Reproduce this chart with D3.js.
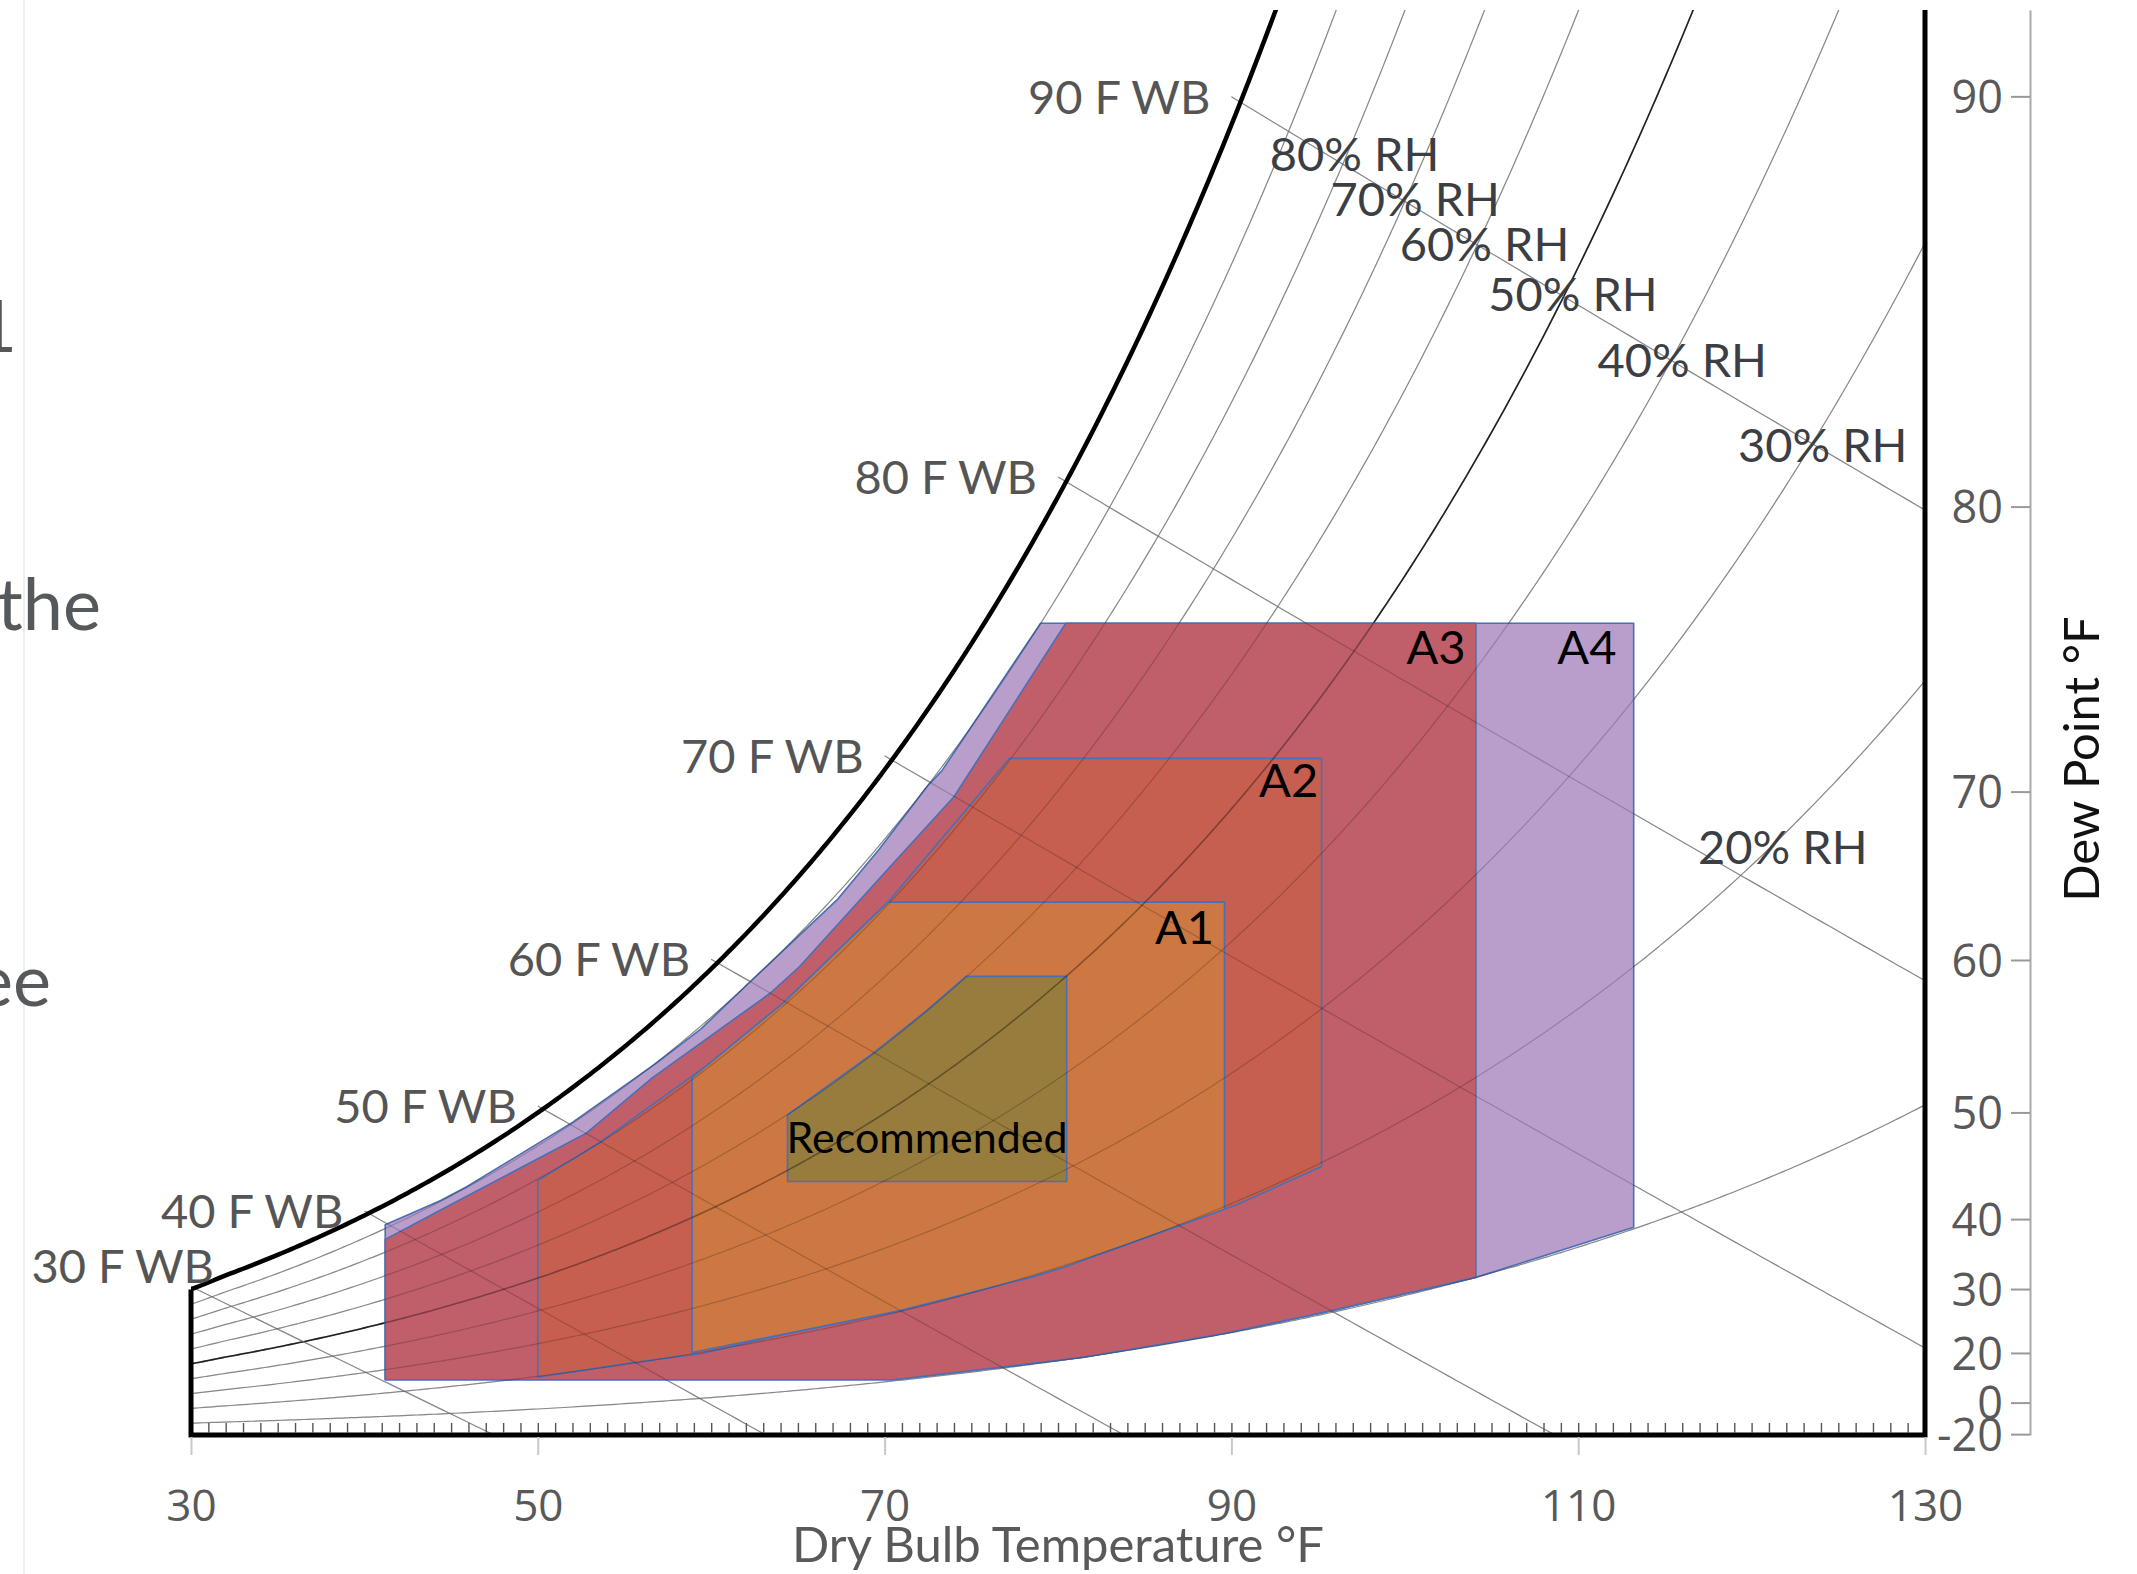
<!DOCTYPE html>
<html>
<head>
<meta charset="utf-8">
<script src="https://cdn.jsdelivr.net/npm/d3@7"></script>
<style>
  html, body { margin: 0; background: #fff; }
  svg { display: block; }
  text { font-family: Lato, "Open Sans", sans-serif; }
</style>
</head>
<body>
<svg id="chart" width="2137" height="1574"></svg>
<script>
// Chart values: dry bulb in °F, humidity ratio in g/kg
const xTicks = [30, 50, 70, 90, 110, 130];
const dewPointTicks = [90, 80, 70, 60, 50, 40, 30, 20, 0, -20];
const dewPointTickW = [31.0, 21.5, 14.9, 11.0, 7.47, 5.0, 3.38, 1.9, 0.75, 0.02];

const rhLevels = [0.1, 0.2, 0.3, 0.4, 0.5, 0.6, 0.7, 0.8, 0.9];
const wbLevels = [30, 40, 50, 60, 70, 80, 90];

const rhLabelText = ['80% RH', '70% RH', '60% RH', '50% RH', '40% RH', '30% RH', '20% RH'];
const rhLabelT = [97.1, 100.6, 104.6, 109.7, 116.0, 124.1, 121.8];
const rhLabelW = [29.67, 28.62, 27.58, 26.42, 24.9, 22.93, 13.61];

// envelope outlines, [dry bulb, humidity ratio]
const classA4 = [[41.2, 1.28], [41.2, 4.87], [44.4, 5.43], [45.9, 5.75], [52.0, 7.24], [56.9, 8.63],
  [59.4, 9.40], [62.2, 10.48], [67.3, 12.41], [69.7, 13.57], [72.5, 15.04], [73.3, 15.38], [79.0, 18.80],
  [113.2, 18.80], [113.2, 4.81], [104.1, 3.65], [95.8, 2.88], [89.6, 2.35], [81.5, 1.80], [76.7, 1.57], [70.5, 1.28]];
const classA3 = [[41.2, 1.28], [41.2, 4.53], [44.4, 5.21], [52.8, 6.99], [56.6, 8.27], [63.4, 10.23],
  [65.1, 10.85], [70.5, 13.24], [74.0, 14.78], [80.45, 18.80], [104.1, 18.80], [104.1, 3.65], [95.8, 2.88],
  [89.6, 2.35], [81.5, 1.80], [76.7, 1.57], [70.5, 1.28]];
const classA2 = [[50.0, 1.34], [50.0, 5.89], [53.6, 6.78], [59.8, 8.57], [64.2, 10.02], [70.2, 12.34],
  [74.9, 14.57], [77.2, 15.67], [95.2, 15.67], [95.2, 6.22], [90.3, 5.33], [89.6, 5.23], [87.0, 4.85],
  [80.3, 3.88], [78.4, 3.65], [70.9, 2.88], [64.5, 2.36], [59.4, 1.88], [55.5, 1.68]];
const classA1 = [[58.9, 1.91], [58.9, 8.28], [59.8, 8.57], [64.2, 10.02], [70.2, 12.34], [89.6, 12.34],
  [89.6, 5.23], [87.0, 4.85], [80.3, 3.88], [78.4, 3.65], [70.9, 2.88], [64.5, 2.36], [59.4, 1.95]];
const recommended = [[64.4, 5.87], [64.4, 7.41], [69.4, 8.86], [72.4, 9.82], [74.7, 10.62], [80.5, 10.62], [80.5, 5.87]];

const envelopes = [
  { name: 'A4', pts: classA4, fill: '#b99ecb', t: 110.5, w: 18.24 },
  { name: 'A3', pts: classA3, fill: '#c05e69', t: 101.8, w: 18.24 },
  { name: 'A2', pts: classA2, fill: '#c75f50', t: 93.3, w: 15.17 },
  { name: 'A1', pts: classA1, fill: '#cd7842', t: 87.3, w: 11.77 },
  { name: 'Recommended', pts: recommended, fill: '#977c3d', t: 72.45, w: 6.9 }
];

// psychrometrics (sea level)
const P = 101.325;
const rhOffset = 0.02; // printed RH curves sit about 2% below nominal
function psat(tF) {
  const c = (tF - 32) / 1.8;
  return c >= 0 ? 0.61094 * Math.exp(17.625 * c / (c + 243.04))
                : 0.61115 * Math.exp(22.452 * c / (c + 272.55));
}
function wFromPw(pw) { return 622 * pw / (P - pw); }
function wRH(tF, rh) { return wFromPw(rh * psat(tF)); }
function wWB(tF, twb) {
  const ws = wFromPw(psat(twb)) / 1000;
  const w = twb >= 32
    ? ((1093 - 0.556 * twb) * ws - 0.24 * (tF - twb)) / (1093 + 0.444 * tF - twb)
    : ((1220 - 0.04 * twb) * ws - 0.24 * (tF - twb)) / (1220 + 0.444 * tF - 0.48 * twb);
  return w * 1000;
}

const svg = d3.select('#chart');
const x = d3.scaleLinear().domain([30, 130]).range([191, 1925]);
const y = d3.scaleLinear().domain([0, 33]).range([1435, 10]);
const line = d3.line().x(d => x(d[0])).y(d => y(d[1]));
const temps = d3.range(30, 130.001, 0.25);

svg.append('defs').append('clipPath').attr('id', 'plotClip').append('rect')
  .attr('x', x(30)).attr('y', y(33))
  .attr('width', x(130) - x(30)).attr('height', y(0) - y(33));

// faint slide edge on the left
svg.append('line').attr('x1', 24).attr('x2', 24).attr('y1', 0).attr('y2', 1574)
  .attr('stroke', '#eeeeee').attr('stroke-width', 2);

// cut-off text from the neighbouring slide
const sideText = svg.append('g').attr('fill', '#55595c').style('font-size', '72px');
sideText.append('text').attr('x', 17).attr('y', 352).attr('text-anchor', 'end').text('1');
sideText.append('text').attr('x', -3).attr('y', 630).text('the');
sideText.append('text').attr('x', 51).attr('y', 1006).attr('text-anchor', 'end').text('ee');

const grid = [];
rhLevels.forEach(rh => grid.push({ d: line(temps.map(t => [t, wRH(t, rh - rhOffset)])), strong: rh === 0.5 }));
wbLevels.forEach(twb => grid.push({ d: line(d3.range(twb, 130.001, 0.5).map(t => [t, wWB(t, twb)])), strong: false }));

function drawGrid(under) {
  const g = svg.append('g').attr('clip-path', 'url(#plotClip)').attr('fill', 'none');
  g.selectAll('path').data(grid).enter().append('path')
    .attr('d', d => d.d)
    .attr('stroke', d => under ? (d.strong ? '#333' : '#aaa') : '#000')
    .attr('stroke-opacity', d => under ? 1 : (d.strong ? 0.35 : 0.2))
    .attr('stroke-width', d => d.strong ? 1.6 : 1.2);
}

drawGrid(true);

const areaLine = d3.line().x(d => x(d[0])).y(d => y(d[1])).curve(d3.curveLinearClosed);
svg.append('g').selectAll('path').data(envelopes).enter().append('path')
  .attr('d', d => areaLine(d.pts))
  .attr('fill', d => d.fill)
  .attr('stroke', '#4a6fb5')
  .attr('stroke-width', 1.6)
  .attr('stroke-linejoin', 'round');

drawGrid(false);

// saturation curve and frame
const satPts = temps.map(t => [t, wRH(t, 1 - rhOffset)]);
svg.append('path').attr('clip-path', 'url(#plotClip)')
  .attr('d', line(satPts)).attr('fill', 'none').attr('stroke', '#000').attr('stroke-width', 4.5);
svg.append('path')
  .attr('d', line([[30, satPts[0][1]], [30, 0], [130, 0], [130, 33]]))
  .attr('fill', 'none').attr('stroke', '#000').attr('stroke-width', 5).attr('stroke-linejoin', 'miter');

// minor ticks every degree inside the frame
const minor = svg.append('g').attr('transform', `translate(0,${y(0) - 2})`)
  .call(d3.axisTop(x).tickValues(d3.range(31, 130)).tickSize(10).tickFormat(''));
minor.select('.domain').remove();
minor.selectAll('line').attr('stroke', '#555').attr('stroke-width', 1.4);

// bottom axis labels
const xAxis = svg.append('g').attr('transform', `translate(0,${y(0) + 2})`)
  .call(d3.axisBottom(x).tickValues(xTicks).tickSize(18));
xAxis.select('.domain').remove();
xAxis.selectAll('line').attr('stroke', '#c8c8c8').attr('stroke-width', 2);
xAxis.selectAll('text').attr('y', 68).attr('dy', '0.36em')
  .attr('fill', '#595959').style('font-family', '"Open Sans", sans-serif').style('font-size', '44px');

svg.append('text').attr('x', x(80)).attr('y', 1544).attr('dy', '0.36em')
  .attr('text-anchor', 'middle').attr('fill', '#595959').style('font-size', '49px')
  .text('Dry Bulb Temperature °F');

// dew point axis on the right
const yAxis = svg.append('g').attr('transform', 'translate(2030,0)')
  .call(d3.axisLeft(y).tickValues(dewPointTickW).tickFormat((d, i) => dewPointTicks[i]).tickSize(19).tickSizeOuter(0).tickPadding(8));
yAxis.select('.domain').attr('stroke', '#aaa').attr('stroke-width', 2);
yAxis.selectAll('line').attr('stroke', '#999').attr('stroke-width', 2);
yAxis.selectAll('text').attr('dy', '0.36em')
  .attr('fill', '#595959').style('font-family', '"Open Sans", sans-serif').style('font-size', '45px');

svg.append('text').attr('transform', 'translate(2081,759) rotate(-90)').attr('dy', '0.36em')
  .attr('text-anchor', 'middle').attr('fill', '#111').style('font-size', '49px')
  .text('Dew Point °F');

// wet bulb labels next to the saturation points
svg.append('g').selectAll('text').data(wbLevels).enter().append('text')
  .attr('x', t => x(t) + (t === 30 ? 23 : -21))
  .attr('y', t => y(wFromPw(psat(t))) + (t === 30 ? -20 : 0))
  .attr('dy', '0.36em').attr('text-anchor', 'end')
  .attr('fill', '#555').style('font-size', '47px')
  .text(t => `${t} F WB`);

// relative humidity labels
svg.append('g').selectAll('text').data(rhLabelText).enter().append('text')
  .attr('x', (d, i) => x(rhLabelT[i]))
  .attr('y', (d, i) => y(rhLabelW[i]))
  .attr('dy', '0.36em').attr('text-anchor', 'middle')
  .attr('fill', '#3b3e43').style('font-size', '47px')
  .text(d => d);

// class labels
svg.append('g').selectAll('text').data(envelopes).enter().append('text')
  .attr('x', d => x(d.t)).attr('y', d => y(d.w))
  .attr('dy', '0.36em').attr('text-anchor', 'middle')
  .attr('fill', '#000').style('font-size', d => d.name === 'Recommended' ? '43px' : '47px')
  .text(d => d.name);
</script>
</body>
</html>
